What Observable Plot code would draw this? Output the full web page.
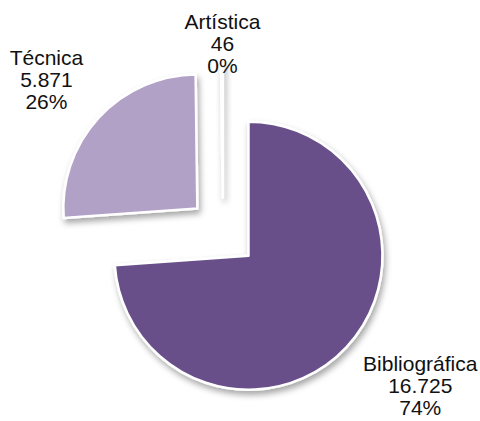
<!DOCTYPE html>
<html><head><meta charset="utf-8">
<script src="https://cdn.jsdelivr.net/npm/d3@7"></script>
<script src="https://cdn.jsdelivr.net/npm/@observablehq/plot@0.6"></script>
<style>html,body{margin:0;padding:0;background:#fff} svg{display:block}</style>
</head><body><div id="chart"></div>
<script>
// ---- data ----
const categories = ["Bibliográfica", "Técnica", "Artística"];
const values = [16725, 5871, 46];
const colors = ["#68508A", "#B2A1C7", "#8064A2"];

// ---- layout ----
const W = 480, H = 421;
const xDomain = [-1.664, 1.918], yDomain = [-1.41, 1.731];
const k = W / (xDomain[1] - xDomain[0]); // pixels per radius unit
const explode = 0.26;
const fontSize = 21, lineH = 22, fontFamily = "'Liberation Sans', Arial, sans-serif";
const gx = 16, gy = 5;

const total = d3.sum(values);
const fmt = d3.formatLocale({decimal: ",", thousands: ".", grouping: [3], currency: ["", ""]}).format(",d");
const ctx = document.createElement("canvas").getContext("2d");
ctx.font = `${fontSize}px ${fontFamily}`;

const arcs = d3.pie().sort(null).value(d => d)(values);
const slices = arcs.map((a, i) => {
  const mid = (a.startAngle + a.endAngle) / 2;
  const sin = Math.sin(mid), cos = Math.cos(mid);
  const lines = [categories[i], fmt(values[i]), Math.round(values[i] / total * 100) + "%"];
  const hw = d3.max(lines, l => ctx.measureText(l).width) / 2;
  const hh = lines.length * lineH / 2;
  const sx = Math.abs(sin) > 0.3 ? Math.sign(sin) : 0;
  const sy = Math.abs(cos) > 0.3 ? Math.sign(cos) : 0;
  let lx = (explode + 1) * sin + sx * (gx + hw) / k;
  let ly = (explode + 1) * cos + sy * (gy + hh) / k;
  ly = Math.min(ly, yDomain[1] - (hh + 10) / k);
  ly = Math.max(ly, yDomain[0] + (hh + 2) / k);
  lx = Math.min(Math.max(lx, xDomain[0] + (hw + 2) / k), xDomain[1] - (hw + 2) / k);
  return {name: categories[i], value: values[i], color: colors[i],
          start: a.startAngle, end: a.endAngle, sin, cos,
          label: lines.join("\n"), lx, ly};
});

function pieMark(index, scales) {
  const x = scales.x, y = scales.y;
  const ppu = x(1) - x(0);
  const g = d3.create("svg:g");
  const f = g.append("defs").append("filter").attr("id", "pieShadow")
    .attr("filterUnits", "userSpaceOnUse")
    .attr("x", -400).attr("y", -400).attr("width", 800).attr("height", 800);
  f.append("feDropShadow").attr("dx", 2).attr("dy", 4).attr("stdDeviation", 3)
    .attr("flood-color", "#000").attr("flood-opacity", 0.35);
  const arc = d3.arc().innerRadius(0).outerRadius(ppu);
  g.selectAll("path").data(slices).join("path")
    .attr("transform", d => `translate(${x(explode * d.sin)},${y(explode * d.cos)})`)
    .attr("d", d => arc({startAngle: d.start, endAngle: d.end}))
    .attr("fill", d => d.color)
    .attr("stroke", "#fff").attr("stroke-width", 2.5).attr("stroke-linejoin", "round")
    .attr("filter", "url(#pieShadow)");
  return g.node();
}

const chart = Plot.plot({
  width: W, height: H, margin: 0,
  x: {domain: xDomain, axis: null},
  y: {domain: yDomain, axis: null},
  style: {background: "#fff"},
  marks: [
    pieMark,
    Plot.text(slices, {x: "lx", y: "ly", text: "label", fontSize, lineHeight: lineH / fontSize,
      fontFamily, fill: "#111", textAnchor: "middle"})
  ]
});
document.getElementById("chart").append(chart);
</script>
</body></html>
